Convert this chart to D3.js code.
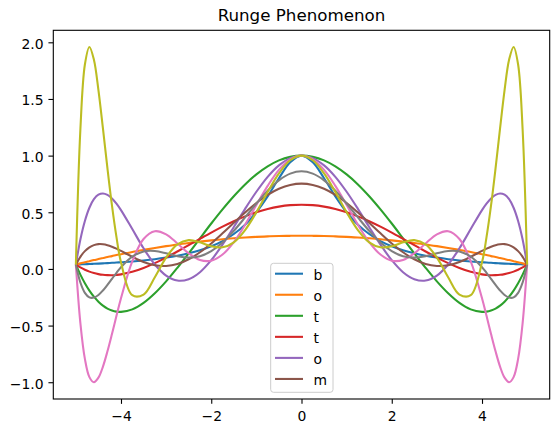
<!DOCTYPE html>
<html><head><meta charset="utf-8">
<script src="https://cdn.jsdelivr.net/npm/d3@7"></script>
<style>
body{margin:0;background:#fff}
svg{display:block}
text{font-family:"DejaVu Sans",sans-serif;fill:#000}
</style>
</head><body>
<svg id="chart" width="559" height="433"></svg>
<script>
const titleText = "Runge Phenomenon";
const xValues = [-5, -4.9, -4.8, -4.7, -4.6, -4.5, -4.4, -4.3, -4.2, -4.1, -4, -3.75, -3.5, -3.25, -3, -2.75, -2.5, -2.25, -2, -1.75, -1.5, -1.25, -1, -0.75, -0.5, -0.25, 0, 0.25, 0.5, 0.75, 1, 1.25, 1.5, 1.75, 2, 2.25, 2.5, 2.75, 3, 3.25, 3.5, 3.75, 4, 4.1, 4.2, 4.3, 4.4, 4.5, 4.6, 4.7, 4.8, 4.9, 5];

const blueY = [0.038, 0.040, 0.042, 0.043, 0.045, 0.047, 0.049, 0.051, 0.054, 0.056, 0.059, 0.066, 0.075, 0.086, 0.1, 0.117, 0.138, 0.165, 0.2, 0.246, 0.308, 0.390, 0.5, 0.64, 0.8, 0.941, 1, 0.941, 0.8, 0.64, 0.5, 0.390, 0.308, 0.246, 0.2, 0.165, 0.138, 0.117, 0.1, 0.086, 0.075, 0.066, 0.059, 0.056, 0.054, 0.051, 0.049, 0.047, 0.045, 0.043, 0.042, 0.040, 0.038];
const orangeY = [0.038, 0.049, 0.058, 0.068, 0.078, 0.087, 0.096, 0.105, 0.113, 0.122, 0.130, 0.150, 0.168, 0.185, 0.201, 0.216, 0.229, 0.241, 0.252, 0.262, 0.270, 0.277, 0.283, 0.287, 0.290, 0.292, 0.293, 0.292, 0.290, 0.287, 0.283, 0.277, 0.270, 0.262, 0.252, 0.241, 0.229, 0.216, 0.201, 0.185, 0.168, 0.150, 0.130, 0.122, 0.113, 0.105, 0.096, 0.087, 0.078, 0.068, 0.058, 0.049, 0.038];
const greenY = [0.038, -0.050, -0.126, -0.191, -0.245, -0.289, -0.324, -0.350, -0.367, -0.377, -0.379, -0.357, -0.300, -0.215, -0.110, 0.010, 0.138, 0.270, 0.401, 0.526, 0.642, 0.746, 0.834, 0.905, 0.958, 0.989, 1, 0.989, 0.958, 0.905, 0.834, 0.746, 0.642, 0.526, 0.401, 0.270, 0.138, 0.010, -0.110, -0.215, -0.300, -0.357, -0.379, -0.377, -0.367, -0.350, -0.324, -0.289, -0.245, -0.191, -0.126, -0.050, 0.038];
const redY = [0.038, 0.013, -0.007, -0.024, -0.037, -0.046, -0.052, -0.055, -0.056, -0.053, -0.048, -0.026, 0.008, 0.051, 0.100, 0.154, 0.210, 0.266, 0.321, 0.373, 0.421, 0.464, 0.500, 0.529, 0.550, 0.563, 0.567, 0.563, 0.550, 0.529, 0.500, 0.464, 0.421, 0.373, 0.321, 0.266, 0.210, 0.154, 0.100, 0.051, 0.008, -0.026, -0.048, -0.053, -0.056, -0.055, -0.052, -0.046, -0.037, -0.024, -0.007, 0.013, 0.038];
const purpleY = [0.038, 0.259, 0.423, 0.540, 0.615, 0.655, 0.666, 0.653, 0.622, 0.576, 0.519, 0.352, 0.182, 0.039, -0.059, -0.103, -0.091, -0.029, 0.077, 0.214, 0.370, 0.530, 0.681, 0.813, 0.914, 0.978, 1, 0.978, 0.914, 0.813, 0.681, 0.530, 0.370, 0.214, 0.077, -0.029, -0.091, -0.103, -0.059, 0.039, 0.182, 0.352, 0.519, 0.576, 0.622, 0.653, 0.666, 0.655, 0.615, 0.540, 0.423, 0.259, 0.038];
const brownY = [0.038, 0.107, 0.157, 0.190, 0.210, 0.219, 0.218, 0.210, 0.196, 0.179, 0.159, 0.107, 0.061, 0.032, 0.026, 0.043, 0.085, 0.147, 0.225, 0.314, 0.407, 0.498, 0.582, 0.653, 0.707, 0.741, 0.753, 0.741, 0.707, 0.653, 0.582, 0.498, 0.407, 0.314, 0.225, 0.147, 0.085, 0.043, 0.026, 0.032, 0.061, 0.107, 0.159, 0.179, 0.196, 0.210, 0.218, 0.219, 0.210, 0.190, 0.157, 0.107, 0.038];
const pinkY = [0.038, -0.478, -0.794, -0.955, -1.000, -0.960, -0.862, -0.727, -0.574, -0.414, -0.259, 0.066, 0.264, 0.333, 0.305, 0.225, 0.138, 0.079, 0.073, 0.127, 0.237, 0.390, 0.564, 0.733, 0.874, 0.967, 1, 0.967, 0.874, 0.733, 0.564, 0.390, 0.237, 0.127, 0.073, 0.079, 0.138, 0.225, 0.305, 0.333, 0.264, 0.066, -0.259, -0.414, -0.574, -0.727, -0.862, -0.960, -1.000, -0.955, -0.794, -0.478, 0.038];
const grayY = [0.038, -0.120, -0.211, -0.251, -0.253, -0.230, -0.190, -0.140, -0.087, -0.034, 0.015, 0.108, 0.154, 0.158, 0.138, 0.112, 0.100, 0.112, 0.157, 0.233, 0.336, 0.455, 0.577, 0.691, 0.782, 0.841, 0.862, 0.841, 0.782, 0.691, 0.577, 0.455, 0.336, 0.233, 0.157, 0.112, 0.100, 0.112, 0.138, 0.158, 0.154, 0.108, 0.015, -0.034, -0.087, -0.140, -0.190, -0.230, -0.253, -0.251, -0.211, -0.120, 0.038];
const oliveY = [0.038, 1.230, 1.804, 1.959, 1.846, 1.579, 1.240, 0.888, 0.560, 0.280, 0.059, -0.232, -0.226, -0.073, 0.1, 0.216, 0.254, 0.235, 0.2, 0.191, 0.235, 0.343, 0.5, 0.679, 0.843, 0.959, 1, 0.959, 0.843, 0.679, 0.5, 0.343, 0.235, 0.191, 0.2, 0.235, 0.254, 0.216, 0.1, -0.073, -0.226, -0.232, 0.059, 0.280, 0.560, 0.888, 1.240, 1.579, 1.846, 1.959, 1.804, 1.230, 0.038];

const seriesList = [blueY, orangeY, greenY, redY, purpleY, brownY, pinkY, grayY, oliveY];
const seriesColors = ["#1f77b4", "#ff7f0e", "#2ca02c", "#d62728", "#9467bd", "#8c564b", "#e377c2", "#7f7f7f", "#bcbd22"];
const legendLabels = ["b", "o", "t", "t", "o", "m"];
const xTicks = [-4, -2, 0, 2, 4];
const yTicks = [-1.0, -0.5, 0.0, 0.5, 1.0, 1.5, 2.0];

const svg = d3.select("#chart");
const L = 53.3, R = 549.7, T = 30.3, B = 399;
const x = d3.scaleLinear().domain([-5.5, 5.5]).range([L, R]);
const y = d3.scaleLinear().domain([-1.148, 2.106]).range([B, T]);
const minus = s => s.replace("-", "\u2212");

svg.append("rect").attr("width", 559).attr("height", 433).attr("fill", "#fff");

const line = d3.line()
  .x((d, i) => x(xValues[i]))
  .y(d => y(d))
  .curve(d3.curveCatmullRom.alpha(0.5));

svg.append("g").selectAll("path").data(seriesList).join("path")
  .attr("d", d => line(d))
  .attr("fill", "none")
  .attr("stroke", (d, i) => seriesColors[i])
  .attr("stroke-width", 2.08)
  .attr("stroke-linejoin", "round");

const tk = 4.86;
const xAxis = d3.axisBottom(x).tickValues(xTicks).tickSize(tk).tickPadding(tk)
  .tickFormat(d => minus(d3.format("d")(d)));
const gx = svg.append("g").attr("transform", `translate(0,${B})`).call(xAxis);
gx.select(".domain").remove();
gx.selectAll("line").attr("stroke", "#000").attr("stroke-width", 1.1);
gx.selectAll("text").attr("font-size", 13.9).attr("dy", "0.88em").attr("font-family", "DejaVu Sans");

const yAxis = d3.axisLeft(y).tickValues(yTicks).tickSize(tk).tickPadding(tk)
  .tickFormat(d => minus(d3.format(".1f")(d)));
const gy = svg.append("g").attr("transform", `translate(${L},0)`).call(yAxis);
gy.select(".domain").remove();
gy.selectAll("line").attr("stroke", "#000").attr("stroke-width", 1.1);
gy.selectAll("text").attr("font-size", 13.9).attr("dy", "0.42em").attr("font-family", "DejaVu Sans");

svg.append("rect").attr("x", L).attr("y", T).attr("width", R - L).attr("height", B - T)
  .attr("fill", "none").attr("stroke", "#000").attr("stroke-width", 1.1);

svg.append("text").attr("x", (L + R) / 2).attr("y", 20.5)
  .attr("text-anchor", "middle").attr("font-size", 16.7).text(titleText);

const lg = svg.append("g");
lg.append("rect").attr("x", 270.7).attr("y", 263.3).attr("width", 62.3).attr("height", 129)
  .attr("rx", 2.8).attr("fill", "#fff").attr("fill-opacity", 0.8)
  .attr("stroke", "#cccccc").attr("stroke-width", 1);
const rows = lg.selectAll("g.row").data(legendLabels).join("g")
  .attr("class", "row")
  .attr("transform", (d, i) => `translate(0,${273.7 + i * 21.05})`);
rows.append("line").attr("x1", 275).attr("x2", 303).attr("y1", 0).attr("y2", 0)
  .attr("stroke", (d, i) => seriesColors[i]).attr("stroke-width", 2.08);
rows.append("text").attr("x", 313.5).attr("y", 6).attr("font-size", 13.9).text(d => d);
</script>
</body></html>
